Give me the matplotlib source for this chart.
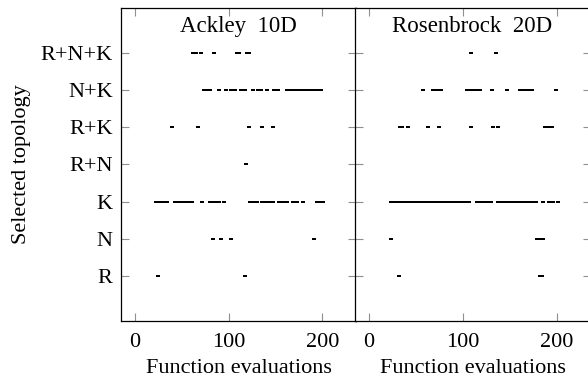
import numpy as np
import matplotlib.pyplot as plt

plt.rcParams['font.family'] = 'Liberation Serif'
plt.rcParams['font.size'] = 16

# topologies, bottom to top
topologies = ['R', 'N', 'K', 'R+N', 'R+K', 'N+K', 'R+N+K']

# function evaluations at which each topology was selected
ackley = {
    'R': [25, 117],
    'N': [83, 92, 102, 191],
    'K': [22, 24, 26, 28, 30, 32, 34, 43, 45, 47, 49, 51, 53, 55, 57, 59, 61,
          72, 80, 83, 85, 87, 90, 95, 123, 126, 130, 136, 138, 141, 144, 147,
          154, 156, 159, 162, 169, 173, 179, 194, 197, 201],
    'R+N': [118],
    'R+K': [40, 67, 122, 136, 147],
    'N+K': [74, 77, 80, 89.5, 97, 103, 107, 113, 117, 126, 131, 134, 141, 148,
            153, 162, 166, 169, 172, 175, 179, 183, 187, 191, 195, 199],
    'R+N+K': [62, 65, 70, 84.5, 109, 111, 119.5, 122],
}

rosenbrock = {
    'R': [32, 182.5, 184],
    'N': [23.5, 179, 181.5, 186],
    'K': [24, 26, 28, 31, 36, 38, 40, 42, 44, 46, 48, 50, 52, 54, 56, 58, 60,
          62.5, 66, 69, 72.5, 77.5, 80, 82, 84, 86, 88, 90, 92, 94, 96, 98, 100,
          102, 104, 107, 115, 117, 119, 121, 123, 125, 127, 130, 138, 140, 142,
          144, 146, 148, 150, 152, 154, 156, 158, 160, 163, 167, 170.5, 175,
          178, 185, 192, 196, 201.5],
    'R+N': [],
    'R+K': [33, 36, 42, 63, 75, 109, 132, 138, 188, 192, 195],
    'N+K': [58, 69, 72.5, 77.5, 105, 107, 110, 114, 119, 131, 147, 160.5, 163,
            166, 170, 174, 199.5],
    'R+N+K': [109, 135],
}

# small flat rectangle mark
mark = [(-1.5, -1), (1.5, -1), (1.5, 1), (-1.5, 1), (-1.5, -1)]

fig = plt.figure(figsize=(5.88, 3.8), dpi=100)
W, H = 588, 380
ax1 = fig.add_axes([121 / W, 1 - 320.7 / H, 235 / W, 312.7 / H])
ax2 = fig.add_axes([354.5 / W, 1 - 320.7 / H, 236 / W, 312.7 / H])

for ax, data, title in [(ax1, ackley, 'Ackley  10D'), (ax2, rosenbrock, 'Rosenbrock  20D')]:
    for i, t in enumerate(topologies):
        xs = data[t]
        ax.plot(xs, [i + 1] * len(xs), ls='none', marker=mark, ms=3,
                mew=0, color='black')
    ax.set_xlim(-15, 236)
    ax.set_ylim(-0.2, 8.2)
    ax.set_xticks([0, 100, 200])
    ax.set_yticks(range(1, 8))
    ax.tick_params(direction='in', length=6, width=0.8, color='#909090',
                   top=True, right=True)
    ax.tick_params(axis='y', pad=6)
    ax.tick_params(axis='x', pad=9)
    for s in ax.spines.values():
        s.set_linewidth(0.9)
    ax.set_xlabel('Function evaluations', labelpad=5)
    ax.text(0.5, 0.975, title, transform=ax.transAxes, ha='center', va='top',
            fontsize=16.5)

ax1.set_yticklabels(topologies)
ax1.set_ylabel('Selected topology', labelpad=7)
ax2.set_yticklabels([])

fig.savefig('out.png', dpi=100)
